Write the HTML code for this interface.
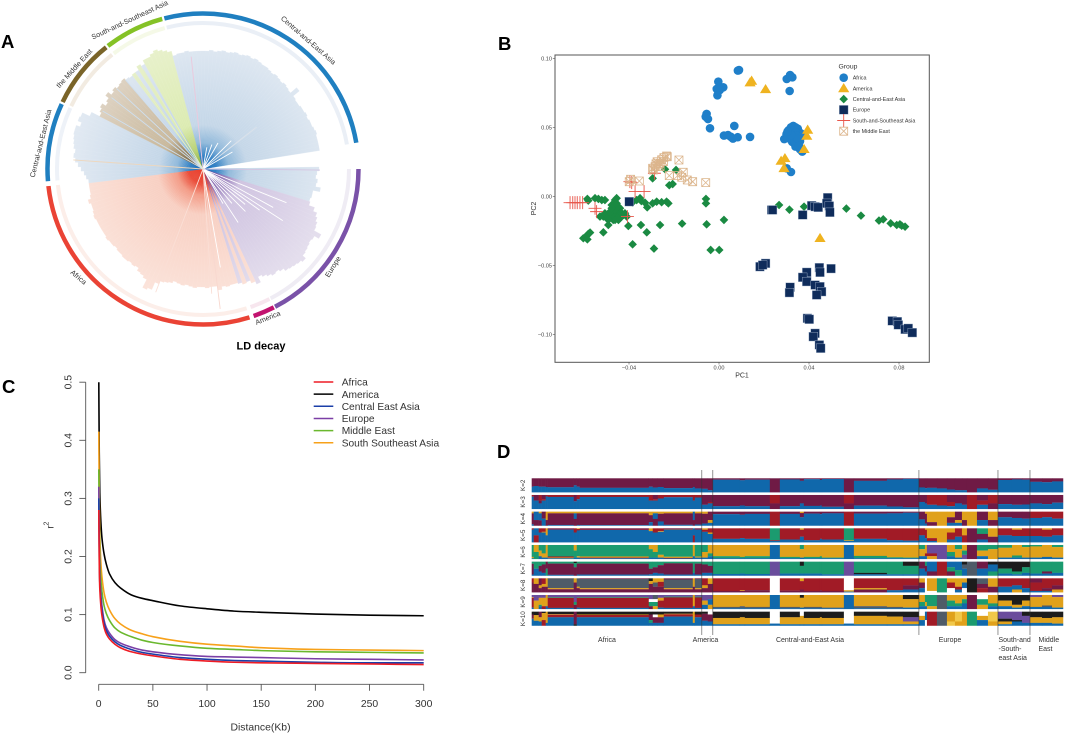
<!DOCTYPE html>
<html lang="en">
<head>
<meta charset="utf-8">
<title>LD decay, PCA, LD curves and admixture panels</title>
<style>
html,body{margin:0;padding:0;background:#fff;}
svg{display:block;font-family:"Liberation Sans",sans-serif;}
#panelD{filter:blur(.35px);}
</style>
</head>
<body>
<svg id="figure" width="1065" height="735" viewBox="0 0 1065 735" xmlns="http://www.w3.org/2000/svg">
<defs>
<radialGradient id="grad-C" gradientUnits="userSpaceOnUse" cx="203" cy="169" r="130">
<stop offset="0" stop-color="#1a6cb8"/><stop offset=".1" stop-color="#2b7cc2"/><stop offset=".2" stop-color="#8fb8da"/><stop offset=".34" stop-color="#c5d7e8"/><stop offset="1" stop-color="#e1e9f2"/>
</radialGradient>
<radialGradient id="grad-A" gradientUnits="userSpaceOnUse" cx="203" cy="169" r="130">
<stop offset="0" stop-color="#e8402f"/><stop offset=".11" stop-color="#e9432f"/><stop offset=".2" stop-color="#f39a85"/><stop offset=".35" stop-color="#f8d0c3"/><stop offset="1" stop-color="#fbe3da"/>
</radialGradient>
<radialGradient id="grad-E" gradientUnits="userSpaceOnUse" cx="203" cy="169" r="130">
<stop offset="0" stop-color="#4b2a91"/><stop offset=".12" stop-color="#7a5aa8"/><stop offset=".3" stop-color="#cfc3e0"/><stop offset="1" stop-color="#e4deed"/>
</radialGradient>
<radialGradient id="grad-M" gradientUnits="userSpaceOnUse" cx="203" cy="169" r="130">
<stop offset="0" stop-color="#4a3a18"/><stop offset=".12" stop-color="#7a6540"/><stop offset=".32" stop-color="#c8b89c"/><stop offset="1" stop-color="#e0d5c6"/>
</radialGradient>
<radialGradient id="grad-G" gradientUnits="userSpaceOnUse" cx="203" cy="169" r="130">
<stop offset="0" stop-color="#7da52a"/><stop offset=".15" stop-color="#b6d070"/><stop offset=".35" stop-color="#dcebb2"/><stop offset="1" stop-color="#e8f1cc"/>
</radialGradient>
</defs>

<text x="1" y="48" font-size="18.5" font-weight="bold">A</text>
<text x="498" y="50" font-size="18.5" font-weight="bold">B</text>
<text x="2" y="393" font-size="18.5" font-weight="bold">C</text>
<text x="497" y="458" font-size="18.5" font-weight="bold">D</text>

<g id="panelA"></g>
<text x="261" y="349.5" font-size="11" font-weight="bold" text-anchor="middle">LD decay</text>
<g font-size="7.2" fill="#333" text-anchor="middle">
<text transform="translate(306.7,42) rotate(41)">Central-and-East Asia</text>
<text transform="translate(130.7,22) rotate(-25)">South-and-Southeast Asia</text>
<text transform="translate(76,70) rotate(-48)">the Middle East</text>
<text transform="translate(43,144) rotate(-76)">Central-and-East Asia</text>
<text transform="translate(77,279) rotate(40)">Africa</text>
<text transform="translate(268.7,320) rotate(-22)">America</text>
<text transform="translate(335,268) rotate(-58)">Europe</text>
</g>

<g id="panelB"></g>
<g id="panelC"></g>
<g id="panelD"></g>
</svg>

<script>
/* ---------- Panel A data ---------- */
const fanStep = 2;
const fanGroups = ['C','x','C','E','E','A','E','A','E','A','A','C','M','C','C','G','C','G','C','G','G','C'];
const fanRadii = [
 [118,118,119,118,119,120,119,120,121,120,121,122,121,122,121,120,120,119,118,119,118,117,118,117,116,124,116,115,115,116,116,117,116,117,117,118,119,118,118,118,118],
 [0,0,0,0],
 [116,114,113,115,114,119,112,112,111],
 [112,118,122,124,126,127,135,130,129,130,131,132,136,134,133,132,131,128,126,127,125,123,121],
 [127],
 [124],
 [121],
 [122],
 [120],
 [119],
 [119,120,119,122,118,118,119,118,118,119,118,117,118,117,116,118,119,120,123,131,133,124,122,121,118,119,118,119,119,118,118,117,118,118,119,118,118,118,118,118,119,118,117,117,119,116,115,115,115],
 [115,117,119,122,125,128,130,129,131,132,133,134,134,130,134,133,125],
 [116,118,120,116,118,122,118,120,118,119,120],
 [118],
 [117],
 [118],
 [118],
 [122],
 [120],
 [124],
 [124,126,128,126,124,122],
 [117,118,118,119,118,118,118]
];
const streakAngles = [52,60,45,30,20,10,112,118.7,122.9,126,130,135,140,146.7,150,170,173,90.5,-6,-86,-60,-52,-47,-41,-36,-31,201,176];
const streakLengths = [68,34,40,30,26,22,90,80,95,70,55,60,45,64,40,100,141,117,113,130,116,116,118,118,116,116,132,125];
const streakColors = ['#dbe2ea','#fff','#fff','#fff','#fff','#fff','#fff','#fff','#fff','#fff','#fff','#fff','#fff','#fff','#fff','#fff','#f8d8cf','#d3c4e1','#ecc8dc','#eed7bd','#cfdfee','#cfdfee','#cfdfee','#cfdfee','#e4edcb','#e4edcb','#fadfd6','#fadfd6'];
const ringNames = ['Central-and-East Asia','Europe','America','Africa','Central-and-East Asia left','the Middle East','South-and-Southeast Asia'];
const ringStart = [-14.4,90,152.9,162.6,265.5,295.5,322.3];
const ringEnd = [80.3,152.4,161,263.7,294.7,321.5,344.8];
const ringColors = ['#1f7fc0','#7a52a8','#c2136f','#ea4335','#1f7fc0','#7a6428','#85c226'];
const tipColors = ['#c9d6e8','#d4cce3','#eabcd3','#f8d2c6','#d2deec','#dccbb0','#e4efc0'];

/* ---------- Panel B data ---------- */
const africaPC1 = [.0089,.0084,-.0003,-.001,.0019,.0004,-.0007,-.0055,-.0059,-.0049,-.004,.0068,.0022,.004,.0052,.0062,.0083,.0138,.0301,.0316,.0326,.0314,.029,.03,.031,.032,.033,.034,.035,.036,.0365,.036,.035,.034,.036,.033,.031,.033,.034,.037,.032,.0301,.037,.0305,.0325,.034,.0345,.0325,.0335,.035,.032,.0355,.0305];
const africaPC2 = [.0915,.0911,.0831,.0778,.079,.0771,.0732,.0597,.0577,.056,.0493,.051,.044,.0444,.0432,.0418,.0428,.043,.085,.0879,.0862,.0763,.0415,.045,.048,.05,.051,.05,.049,.046,.043,.04,.038,.036,.034,.042,.042,.046,.042,.045,.0176,.0203,.0324,.0425,.0475,.0465,.044,.0395,.0385,.0415,.0445,.0365,.047];
const americaPC1 = [.0145,.0138,.0207,.0394,.039,.0378,.0293,.0276,.0289,.0449];
const americaPC2 = [.0836,.0824,.0775,.0481,.0437,.0341,.0275,.0256,.0203,-.0304];
const centralEastPC1 = [-.0585,-.0581,-.0551,-.0536,-.0521,-.0507,-.0455,-.0366,-.0351,-.0329,-.0319,-.0295,-.0277,-.0255,-.0233,-.0225,-.0058,-.0058,.0267,.0313,.0378,.0566,.0631,.0711,.073,.0763,.079,.0804,.0812,.0827,-.0295,-.024,-.0191,-.0221,-.0206,-.0403,-.0347,-.0262,-.0164,-.0055,.0022,-.0514,-.0321,-.0384,-.0289,-.0037,.0001,-.0492,-.0603,-.0591,-.0581,-.0573,-.0585,-.0462,-.0455,-.047,-.0455,-.0484,-.0514,-.0529,-.0499,-.0425,-.041,-.044,-.047,-.0462,-.0477,-.044,-.0507,-.0447,-.0492,-.0477,-.0462,-.0447,-.0484,-.0462,-.0447,-.0432,-.0477,-.0455,-.0462,-.0447,-.0418,-.0492,-.0345,-.0385];
const centralEastPC2 = [-.0019,-.0031,-.0014,-.0019,-.0027,-.0027,-.0014,-.0027,-.0014,-.0046,-.008,-.0051,-.0039,-.0043,-.0039,-.0051,-.0019,-.0051,-.0063,-.0097,-.0075,-.0089,-.014,-.0176,-.0167,-.0196,-.0208,-.0203,-.0213,-.022,.013,.0196,.0191,.008,.0089,-.0215,-.0208,-.0208,-.0198,-.0203,-.0171,-.0261,-.0261,-.0348,-.0379,-.0389,-.0389,-.0208,-.0304,-.0292,-.0273,-.0263,-.0312,-.0051,-.0075,-.0111,-.0135,-.0123,-.0147,-.0147,-.0159,-.0135,-.0147,-.0159,-.0171,-.0027,-.0063,-.0087,-.0123,-.0111,-.0147,-.0147,-.0147,-.0147,-.0111,-.0099,-.0075,-.0123,-.0087,-.0051,-.0171,-.0171,-.0123,-.0171,-.0035,-.0045];
const europePC1 = [-.0399,.0234,.0238,.0372,.0412,.0427,.0441,.0483,.0479,.049,.0493,.0182,.0207,.0194,.0446,.0449,.0498,.039,.0372,.039,.0316,.0313,.0427,.0449,.0456,.0434,.0393,.0401,.0427,.0419,.0446,.0452,.077,.0793,.0797,.0827,.0841,.0859];
const europePC2 = [-.0039,-.0099,-.0099,-.0135,-.0068,-.0075,-.008,-.001,-.0051,-.007,-.0116,-.051,-.0486,-.0498,-.0517,-.0551,-.0524,-.0551,-.0587,-.0618,-.0659,-.0698,-.0643,-.0655,-.0691,-.0715,-.0884,-.0891,-.0993,-.1017,-.1077,-.1101,-.0903,-.0908,-.0932,-.0964,-.0957,-.0988];
const southEastPC1 = [-.0662,-.065,-.064,-.063,-.0618,-.0606,-.0544,-.0551,-.0396,-.0373,-.0333,-.0407,-.0287,-.0388];
const southEastPC2 = [-.0046,-.0046,-.0046,-.0046,-.0046,-.0046,-.0111,-.0087,.0106,.0034,.0034,-.0147,.0167,.0099];
const middleEastPC1 = [-.0393,-.0399,-.0354,-.0295,-.0284,-.027,-.0247,-.0233,-.023,-.0178,-.0221,-.0184,-.0159,-.0166,-.0141,-.0117,-.0059,-.0262,-.0292,-.028,-.0262,-.0245,-.0255,-.0275];
const middleEastPC2 = [.0123,.0106,.0111,.0203,.0215,.0227,.0251,.0292,.0287,.0263,.015,.015,.0174,.0138,.0118,.0106,.0099,.0239,.0191,.0235,.0215,.028,.0265,.025];
const pcXTicks = [-.04,0,.04,.08];
const pcXTickLabels = ['\u22120.04','0.00','0.04','0.08'];
const pcYTicks = [.1,.05,0,-.05,-.1];
const pcYTickLabels = ['0.10','0.05','0.00','\u22120.05','\u22120.10'];
const pcaLegend = ['Africa','America','Central-and-East Asia','Europe','South-and-Southeast Asia','the Middle East'];

/* ---------- Panel C data ---------- */
const distanceKb = [.1,.5,1,2,3,5,7,10,15,20,30,40,50,75,100,125,150,200,250,300];
const r2Africa = [.28,.19,.145,.115,.098,.078,.067,.058,.049,.043,.036,.032,.029,.023,.02,.018,.017,.016,.015,.014];
const r2America = [.5,.38,.31,.26,.232,.204,.187,.17,.155,.146,.134,.128,.124,.115,.11,.106,.104,.101,.099,.098];
const r2CentralEast = [.3,.2,.155,.125,.107,.085,.073,.063,.053,.047,.04,.035,.032,.026,.023,.021,.02,.018,.017,.017];
const r2Europe = [.32,.22,.17,.135,.115,.09,.078,.068,.057,.051,.044,.039,.036,.031,.028,.027,.026,.024,.023,.022];
const r2MiddleEast = [.35,.26,.2,.16,.14,.115,.102,.09,.077,.07,.062,.056,.052,.046,.042,.04,.038,.036,.035,.034];
const r2SouthEast = [.415,.3,.24,.19,.165,.137,.122,.108,.093,.084,.073,.067,.062,.054,.049,.046,.043,.04,.039,.038];
const curveNames = ['Africa','America','Central East Asia','Europe','Middle East','South Southeast Asia'];
const curveColors = ['#ee1c25','#000000','#1b3fa8','#7b3fa6','#6ab82e','#f7a11a'];
const r2Ticks = [0,.1,.2,.3,.4,.5];
const r2TickLabels = ['0.0','0.1','0.2','0.3','0.4','0.5'];
const distTicks = [0,50,100,150,200,250,300];
const distTickLabels = ['0','50','100','150','200','250','300'];

/* ---------- Panel D data ---------- */
const sampleBlocks = [2,5,3,4,2,26,3,3,69,4,5,6,29,2,7,6,5,27,5,25,10,20,4,16,2,22,10,33,16,16,6,2,10,10,8,7,5,10,11,10,14,10,8,12,10,11];
const populationBreaks = [170,181,387,466,498];
const kLabels = ['K=2','K=3','K=4','K=5','K=6','K=7','K=8','K=9','K=10'];
const kRow2 = ['m60b40','m55b45','m60b40','m60b40','m62b38','m64b36','m50b50','m60b40','m68b32','m60b40','m66b34','m62b38','m70b30','m62b38','m72b28','m75b25','m85b15','m10b90','m14b86','m10b90','m100','m8b92','m18b82','m6b94','m12b88','m5b95','m100','m18b82','m8b92','m4b96','m65b35','m70b30','m68b32','m72b28','m80b20','m85b15','m85b15','m100','m72b28','m82b18','m12b88','m8b92','m10b90','m25b75','m28b72','m22b78'];
const kRow3 = ['r12b88','m40b60','r40m20b40','m30r10b60','r10b90','r14b86','m45b55','r30b70','r14b86','r40b60','m30r10b60','r25b75','r16b84','r40b60','r18b82','m70b30','m50r10b40','m80b20','m75b25','m80b20','r60m40','m80b20','m60b40','m78b22','m75b25','m84b16','r60m40','m76b24','m82b18','m88b12','m50b50','m60b40','r70b30','r75b25','m50r30b20','m60b40','m70b30','r100','m40r30b30','r60m40','m65b35','m70b30','m68b32','m60b40','m65b35','m55b45'];
const kRow4 = ['y12m78b10','b60m40','y12b50m38','m50b50','y60m40','y12m83b5','y12b40m48','y12m83b5','y12m84b4','y25m50b25','y12b40m48','y15m55b30','y12m82b6','b60m40','y12m80b8','y15m70b15','m60y20b20','m18b82','m22b78','m16b84','r100','m16b84','y10m30b60','m14b86','m18b82','m12b88','r100','m14b86','m12b88','m8b92','m55b45','y15m70b15','y75m25','y100','y40m40b20','m60y20b20','y60m40','y100','m60b40','y60m40','m40b60','m45b55','m50b50','r45b55','r40b60','r50b50'];
const kRow5 = ['r10b90','b50r50','r30b70','r25y5b70','y50b50','m10b90','r30b70','y5r10b85','m10r2b88','y20b80','r30b70','r20y5b75','m8y2b90','b50r50','m10b90','y10r15b75','r30y10b60','r75b25','r70b30','r75b25','g85r5b10','r80b20','y10r50b40','r85b15','r75b25','r80b20','g85y5b10','r75b25','r85b15','r88b12','r50b50','y10r60b30','y70r20b10','y100','y30r50b20','r60b40','y50r50','m100','g40m40b20','y60m40','r50b50','y10r45b45','r55b45','r55b45','y10r50b40','r50b50'];
const kRow6 = ['g85y10b5','y50g50','g40y40b20','g60y30b10','y90b10','g82r8y5b5','y40g50b10','g80y10b10','g82y8r5b5','y30g60b10','y50g40b10','g70y20b10','g84y8r4b4','y80b20','g82y8b10','g50y40b10','y60g20b20','y80g15b5','y85g10b5','y80g15b5','b100','y85g10b5','g30y60b10','y85g10b5','y80g15b5','y90g5b5','b100','y78g17b5','y88g7b5','y90g5b5','g30y50b20','y60r20b20','p60r20y20','p100','y50g30b20','g30y60b10','y40g30p30','m100','g40y40b20','g30y70','g20y70b10','y75g15b10','g15y75b10','g10y80b10','y85b15','g15y75b10'];
const kRow7 = ['g15m77b8','g50b50','g30m40b30','g20m60b20','m50g50','g14m80b6','k10g30m60','g14m78b8','g14m78b8','g50m40b10','g40m40b20','g25m60b15','g12m80b8','g80b20','g14m78b8','g20m60b20','g30m50b20','g88b12','g85b15','g88b12','p100','g85b15','k30g55b15','g85b15','g85b15','g90b10','p100','g80k10b10','g90b10','k30g60b10','m50b50','g30m40b30','b70m30','r100','b40g30m30','b60g40','k20s30b50','s100','m50b50','k20b50g30','k50g35b15','k70g20b10','k40g40b20','g85b15','g70m15b15','g80b20'];
const kRow8 = ['r30m70','y40m60','m50y20m30','r40y20m40','y60m40','k3s67y8m22','y30m70','s60y10m30','m5s65y8m22','k20y20m60','y30s30m40','y25r35m40','m8s62y8m22','y60m40','m5s65y8m22','r50y20m30','y40m60','r90m10','r85y5m10','r85m15','w100','r88m12','y20r60m20','r90m10','r85m15','r90m10','w85y10b5','r70y10m20','r85b15','r50m30b20','y30m40b30','w100','y90w10','g100','y30r40w30','y60r20b20','y30b40w30','k100','s40m30r30','y60m40','r60b40','r50b30y20','r70b30','m30r60b10','r70m20b10','r50m30y20'];
const kRow9 = ['p15y5r70b10','p40y60','p20y50g10b20','p20y60r20','y80b20','p15g5r72b8','p50g20m30','p15g5r70b10','p15g5r72b8','p30w20g30m20','s30w20g30y20','p20y20r50b10','p12g5r75b8','y80b20','p12g5r75b8','p40y30b30','p30b40y30','y85s10b5','y80s15b5','y85s10b5','b100','y85s10b5','k20y70b10','y85s10b5','y85s10b5','y90s5b5','b100','y80s15b5','y85s10b5','k30y60b10','y50g30b20','g50y30b20','g80y20','s100','y40g40b20','y60g20b20','y30g30b40','m100','w30g40y30','y60g20b20','k40y40b20','k70y20b10','k40y40b20','p15y70b15','y75s10b15','p15y75b10'];
const kRow10 = ['k20m25r5b50','k25y40b35','m40y30b30','k10y50r40','y80b20','k18y4r18b60','m90k10','k20y4r16b60','k20y4r16b60','k20m40g20b20','k20w20m40b20','k20y20m40b20','k15y4r16b65','y80b20','k20r20b60','k15m50b35','w20m50b30','k45y45b10','k40y50b10','k45y45b10','w85b15','k40y50b10','w30y60b10','k45y45b10','k40y50b10','k45y45b10','w85b15','k30y60b10','k35y55b10','k40p30y20b10','w30y30b40','b60w40','r100','s100','y70l30','l70y30','y100','g100','w30y30b40','l70y30','p50k20y20b10','p60k10b30','k30p50b20','k40y40b20','k45y35b20','k40y45b15'];
const kRows = [kRow2,kRow3,kRow4,kRow5,kRow6,kRow7,kRow8,kRow9,kRow10];
const ancestryColors = {m:'#6f1a45',b:'#1068ab',r:'#a11b26',y:'#e0a11b',g:'#1b9b6f',p:'#6a4c9c',k:'#1c1c1c',s:'#4f5b68',l:'#f1c84a',w:'#ffffff'};

/* ---------- helpers ---------- */
const NS = 'http://www.w3.org/2000/svg';
function mk(tag, attrs, parent){
  const n = document.createElementNS(NS, tag);
  for (const k in attrs) n.setAttribute(k, attrs[k]);
  parent.appendChild(n);
  return n;
}
const CX = 203, CY = 169;
function polar(deg, r){
  const a = deg * Math.PI / 180;
  return [CX + r * Math.sin(a), CY - r * Math.cos(a)];
}
function arcD(r, a0, a1){
  const p = polar(a0, r), q = polar(a1, r);
  return 'M' + p[0] + ' ' + p[1] + 'A' + r + ' ' + r + ' 0 ' + ((a1 - a0) > 180 ? 1 : 0) + ' 1 ' + q[0] + ' ' + q[1];
}
function smoothD(xs, ys){
  const n = xs.length, h = [], s = [], t = [];
  for (let i = 0; i < n - 1; i++){ h[i] = xs[i + 1] - xs[i]; s[i] = h[i] ? (ys[i + 1] - ys[i]) / h[i] : 0; }
  t[0] = s[0]; t[n - 1] = s[n - 2];
  for (let i = 1; i < n - 1; i++){ t[i] = s[i - 1] * s[i] > 0 ? 2 * s[i - 1] * s[i] / (s[i - 1] + s[i]) : 0; }
  let d = 'M' + xs[0] + ' ' + ys[0];
  for (let i = 0; i < n - 1; i++){
    const k = h[i] / 3;
    d += 'C' + (xs[i] + k) + ' ' + (ys[i] + k * t[i]) + ' ' + (xs[i + 1] - k) + ' ' + (ys[i + 1] - k * t[i + 1]) + ' ' + xs[i + 1] + ' ' + ys[i + 1];
  }
  return d;
}

/* ---------- Panel A ---------- */
(function(){
  const g = document.getElementById('panelA');
  let slice = 0;
  fanGroups.forEach(function(group, run){
    fanRadii[run].forEach(function(radius){
      const a = slice * fanStep;
      slice++;
      if (group === 'x' || radius === 0) return;
      const p = polar(a - fanStep / 2, radius), q = polar(a + fanStep / 2, radius);
      const w = mk('polygon', {points: CX + ',' + CY + ' ' + p.join(',') + ' ' + q.join(','), fill: 'url(#grad-' + group + ')', stroke: 'url(#grad-' + group + ')', 'stroke-width': .25}, g);
      
      
    });
  });
  streakAngles.forEach(function(a, i){
    const e = polar(a, streakLengths[i]);
    const l = mk('line', {x1: CX, y1: CY, x2: e[0], y2: e[1], stroke: streakColors[i], 'stroke-width': .9}, g);
    
    
  });
  ringNames.forEach(function(name, i){
    const t = mk('path', {d: arcD(146, ringStart[i], ringEnd[i]), fill: 'none', stroke: tipColors[i], 'stroke-width': 4, 'stroke-opacity': .38}, g);
    
    
    const r = mk('path', {d: arcD(155.5, ringStart[i], ringEnd[i]), fill: 'none', stroke: ringColors[i], 'stroke-width': 4.5}, g);
    
    
  });
})();

/* ---------- Panel B ---------- */
const xPC = function(v){ return 719 + v * 2250; };
const yPC = function(v){ return 196.3 - v * 1380; };
function marker(parent, type, x, y){
  if (type === 0) return mk('circle', {cx: x, cy: y, r: 4.3, fill: '#1f7fc9'}, parent);
  if (type === 1) return mk('polygon', {points: x + ',' + (y - 5.4) + ' ' + (x + 5.6) + ',' + (y + 3.8) + ' ' + (x - 5.6) + ',' + (y + 3.8), fill: '#efb320'}, parent);
  if (type === 2) return mk('polygon', {points: x + ',' + (y - 4.3) + ' ' + (x + 4.3) + ',' + y + ' ' + x + ',' + (y + 4.3) + ' ' + (x - 4.3) + ',' + y, fill: '#1a8a42'}, parent);
  if (type === 3) return mk('rect', {x: x - 4.4, y: y - 4.4, width: 8.8, height: 8.8, fill: '#0f2c5b', stroke: '#a9b9cf', 'stroke-width': .4}, parent);
  if (type === 4) return mk('path', {d: 'M' + (x - 6.5) + ' ' + y + 'H' + (x + 6.5) + 'M' + x + ' ' + (y - 6.5) + 'V' + (y + 6.5), stroke: '#e8564a', 'stroke-width': .9, fill: 'none'}, parent);
  return mk('path', {d: 'M' + (x - 4) + ' ' + (y - 4) + 'h8v8h-8zl8 8M' + (x + 4) + ' ' + (y - 4) + 'l-8 8', stroke: '#dcb58c', 'stroke-width': .8, fill: 'none'}, parent);
}
(function(){
  const g = document.getElementById('panelB');
  const frame = mk('rect', {x: 555, y: 55, width: 374.3, height: 307.3, fill: '#fff', stroke: '#555', 'stroke-width': 1}, g);
  
  
  pcXTicks.forEach(function(v, i){
    const t = mk('line', {x1: xPC(v), x2: xPC(v), y1: 362.3, y2: 364.5, stroke: '#555', 'stroke-width': .6}, g);
    
    
    const l = mk('text', {x: xPC(v), y: 369.5, 'font-size': 5.6, fill: '#444', 'text-anchor': 'middle'}, g);
    
    
    l.textContent = pcXTickLabels[i];
  });
  pcYTicks.forEach(function(v, i){
    const t = mk('line', {x1: 552.8, x2: 555, y1: yPC(v), y2: yPC(v), stroke: '#555', 'stroke-width': .6}, g);
    
    
    const l = mk('text', {x: 552, y: yPC(v) + 2, 'font-size': 5.6, fill: '#444', 'text-anchor': 'end'}, g);
    
    
    l.textContent = pcYTickLabels[i];
  });
  const xt = mk('text', {x: 742, y: 377.5, 'font-size': 7, fill: '#333', 'text-anchor': 'middle'}, g);
  
  
  xt.textContent = 'PC1';
  const yt = mk('text', {transform: 'translate(536,208.5) rotate(-90)', 'font-size': 7, fill: '#333', 'text-anchor': 'middle'}, g);
  
  
  yt.textContent = 'PC2';
  const sets = [[africaPC1,africaPC2],[americaPC1,americaPC2],[centralEastPC1,centralEastPC2],[europePC1,europePC2],[southEastPC1,southEastPC2],[middleEastPC1,middleEastPC2]];
  const names = ['africa','america','central-east-asia','europe','south-southeast-asia','middle-east'];
  sets.forEach(function(s, k){
    s[0].forEach(function(v, i){
      const m = marker(g, k, xPC(v), yPC(s[1][i]));
      
      
    });
  });
  const lt = mk('text', {x: 838.5, y: 68.5, 'font-size': 6.8, fill: '#333'}, g);
  
  
  lt.textContent = 'Group';
  pcaLegend.forEach(function(name, i){
    const y = 77.7 + i * 10.7;
    const m = marker(g, i, 843.7, y);
    
    
    const t = mk('text', {x: 852.7, y: y + 1.9, 'font-size': 5.4, fill: '#333'}, g);
    
    
    t.textContent = name;
  });
})();

/* ---------- Panel C ---------- */
const xDist = function(v){ return 98.7 + v * 325 / 300; };
const yR2 = function(v){ return 672.7 - v * 581; };
(function(){
  const g = document.getElementById('panelC');
  const series = [r2Africa, r2America, r2CentralEast, r2Europe, r2MiddleEast, r2SouthEast];
  const drawOrder = [1,5,4,3,2,0];
  drawOrder.forEach(function(s){
    const xs = distanceKb.map(function(d){ return xDist(d); });
    const ys = series[s].map(function(v){ return yR2(v); });
    const l = mk('path', {d: smoothD(xs, ys) , fill: 'none', stroke: curveColors[s], 'stroke-width': 1.6}, g);
    
    
  });
  const ya = mk('line', {x1: 85.7, x2: 85.7, y1: yR2(0), y2: yR2(.5), stroke: '#555', 'stroke-width': .9}, g);
  
  
  r2Ticks.forEach(function(v, i){
    const t = mk('line', {x1: 79.3, x2: 85.7, y1: yR2(v), y2: yR2(v), stroke: '#555', 'stroke-width': .9}, g);
    
    
    const l = mk('text', {transform: 'translate(71.5,' + yR2(v) + ') rotate(-90)', 'font-size': 10.4, fill: '#333', 'text-anchor': 'middle'}, g);
    
    
    l.textContent = r2TickLabels[i];
  });
  const xa = mk('line', {x1: xDist(0), x2: xDist(300), y1: 684.3, y2: 684.3, stroke: '#555', 'stroke-width': .9}, g);
  
  
  distTicks.forEach(function(v, i){
    const t = mk('line', {x1: xDist(v), x2: xDist(v), y1: 684.3, y2: 690.7, stroke: '#555', 'stroke-width': .9}, g);
    
    
    const l = mk('text', {x: xDist(v), y: 707, 'font-size': 10.4, fill: '#333', 'text-anchor': 'middle'}, g);
    
    
    l.textContent = distTickLabels[i];
  });
  const xt = mk('text', {x: 260.5, y: 730.5, 'font-size': 10.4, fill: '#333', 'text-anchor': 'middle'}, g);
  
  
  xt.textContent = 'Distance(Kb)';
  const yt = mk('text', {transform: 'translate(53.5,527) rotate(-90)', 'font-size': 10.4, fill: '#333', 'text-anchor': 'middle'}, g);
  
  
  yt.textContent = 'r';
  const sup = mk('text', {transform: 'translate(48.5,523.5) rotate(-90)', 'font-size': 7, fill: '#333', 'text-anchor': 'middle'}, g);
  
  
  sup.textContent = '2';
  curveNames.forEach(function(name, i){
    const y = 382 + i * 12.15;
    const l = mk('line', {x1: 313.7, x2: 333.3, y1: y, y2: y, stroke: curveColors[i], 'stroke-width': 1.5}, g);
    
    
    const t = mk('text', {x: 341.7, y: y + 3.6, 'font-size': 10.2, fill: '#333'}, g);
    
    
    t.textContent = name;
  });
})();

/* ---------- Panel D ---------- */
const xSample = function(s){ return 531.7 + s * 531.3 / 531; };
const yRow = function(i){ return 478.3 + i * 16.67; };
const rowHeight = 14;
(function(){
  const g = document.getElementById('panelD');
  kRows.forEach(function(row, r){
    let s = 0;
    row.forEach(function(stack, b){
      const w = sampleBlocks[b];
      let top = 0;
      const parts = stack.match(/[a-z]\d+/g);
      parts.forEach(function(p){
        const frac = parseInt(p.slice(1), 10) / 100;
        const c = mk('rect', {x: xSample(s), y: yRow(r) + top * rowHeight, width: xSample(s + w) - xSample(s) + .25, height: frac * rowHeight + .1, fill: ancestryColors[p[0]]}, g);
        
        
        top += frac;
      });
      s += w;
    });
    const l = mk('text', {transform: 'translate(525,' + (yRow(r) + 7) + ') rotate(-90)', 'font-size': 6.3, fill: '#333', 'text-anchor': 'middle'}, g);
    
    
    l.textContent = kLabels[r];
  });
  populationBreaks.forEach(function(s){
    const l = mk('line', {x1: xSample(s), x2: xSample(s), y1: 470, y2: 635, stroke: '#333', 'stroke-opacity': .75, 'stroke-width': .7}, g);
    
    
  });
  const popLabels = [['Africa',607,642,'middle'],['America',705.5,642,'middle'],['Central-and-East Asia',810,642,'middle'],['Europe',950,642,'middle'],['South-and',998.5,642,'start'],['-South-',998.5,651,'start'],['east Asia',998.5,660,'start'],['Middle',1038.5,642,'start'],['East',1038.5,651,'start']];
  popLabels.forEach(function(p){
    const t = mk('text', {x: p[1], y: p[2], 'font-size': 7, fill: '#333', 'text-anchor': p[3]}, g);
    
    
    t.textContent = p[0];
  });
})();
</script>
</body>
</html>
